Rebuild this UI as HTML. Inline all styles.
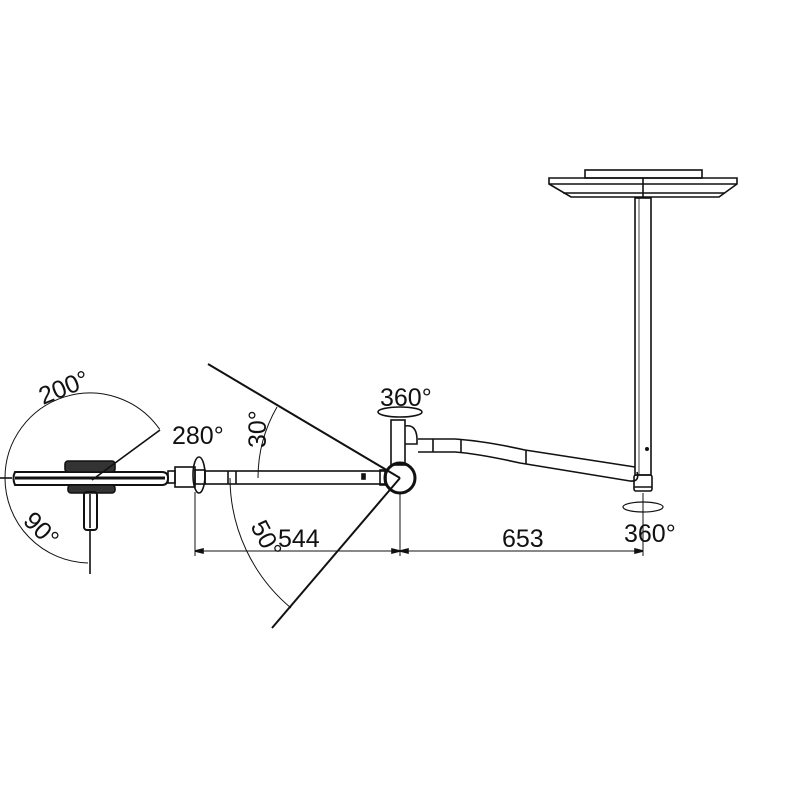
<!DOCTYPE html>
<html><head><style>body{margin:0;background:#fff}svg{display:block}text{font-family:"Liberation Sans",sans-serif;font-size:25px;fill:#111}</style></head>
<body>
<svg width="800" height="800" viewBox="0 0 800 800" xmlns="http://www.w3.org/2000/svg" fill="none" stroke="#111" stroke-width="1.6">
<!-- ceiling plate -->
<rect x="585" y="170" width="117" height="8"/>
<path d="M549 178 H737 V184 L719 197 H571 L549 184 Z"/>
<line x1="549" y1="184" x2="737" y2="184"/>
<line x1="563" y1="193" x2="725" y2="193"/>
<line x1="643" y1="178" x2="643" y2="197"/>
<!-- column -->
<rect x="635" y="198" width="16" height="277"/>
<line x1="639" y1="198" x2="639" y2="475" stroke-width="0.8"/>
<circle cx="647" cy="449" r="1.2" fill="#111"/>
<rect x="634" y="475" width="18" height="16" rx="2"/>
<line x1="634" y1="487" x2="652" y2="487"/>
<!-- arm to column -->
<path d="M418 439 H455 Q485 441 525 450 L635 467"/>
<path d="M418 452 H455 Q480 454 520 463 L630 481 Q640 482 637 472"/>
<line x1="433" y1="439" x2="433" y2="452"/><line x1="461" y1="440" x2="461" y2="453"/><line x1="526" y1="450" x2="526" y2="464"/>
<!-- vertical pipe + hook -->
<rect x="391" y="420" width="14" height="45"/>
<path d="M405 426 Q416 424 417 438 V444 H405"/>
<ellipse cx="400" cy="412" rx="22" ry="5"/>
<!-- joint -->
<circle cx="400" cy="478" r="15" stroke-width="3"/>
<!-- horizontal arm -->
<rect x="205" y="471" width="180" height="13"/>
<rect x="380" y="470" width="6" height="15"/>
<rect x="362" y="474" width="3" height="5" fill="#111"/>
<path d="M228 471 V484 M236 471 V484"/>
<rect x="175" y="467" width="20" height="20"/>
<ellipse cx="199" cy="475" rx="6" ry="18"/>
<rect x="195" y="470" width="10" height="14"/>
<rect x="168" y="471" width="7" height="12"/>
<!-- lamp head -->
<path d="M15 472 H162 Q168 472 168 478 Q168 485 162 485 H15 Q12 478 15 472 Z" stroke-width="2"/>
<line x1="15" y1="478" x2="165" y2="478" stroke-width="3"/>
<rect x="65" y="461" width="50" height="11" rx="3" fill="#333"/>
<rect x="68" y="485" width="47" height="8" rx="3" fill="#333"/>
<rect x="84" y="492" width="13" height="38" rx="3" stroke-width="2"/>
<line x1="90" y1="494" x2="90" y2="528"/>
<line x1="90" y1="530" x2="90" y2="574"/>
<line x1="92" y1="480" x2="160" y2="430"/>
<!-- arcs around lamp -->
<path d="M159.6 429.2 A85 85 0 0 0 5 478" stroke-width="1"/>
<path d="M5 478 A85 85 0 0 0 88 563" stroke-width="1"/>
<line x1="0" y1="478" x2="12" y2="478"/>
<!-- angle lines -->
<line x1="400" y1="478" x2="208" y2="364" stroke-width="2"/>
<line x1="400" y1="478" x2="272" y2="628" stroke-width="2"/>
<path d="M277 407 A142 142 0 0 0 258 478" stroke-width="1"/>
<path d="M230 478 A170 170 0 0 0 291 608" stroke-width="1"/>
<!-- dimensions -->
<line x1="195" y1="492" x2="195" y2="556" stroke-width="1"/>
<line x1="400" y1="492" x2="400" y2="556" stroke-width="1"/>
<line x1="643" y1="493" x2="643" y2="556" stroke-width="1"/>
<line x1="195" y1="551" x2="643" y2="551" stroke-width="1"/>
<path d="M195 551 l8 -2 v4 z M400 551 l-8 -2 v4 z M400 551 l8 -2 v4 z M643 551 l-8 -2 v4 z" fill="#111"/>
<ellipse cx="643" cy="507" rx="20" ry="5" stroke-width="1.2"/>
<g stroke="none">
<text x="278" y="547">544</text>
<text x="502" y="547">653</text>
<text x="380" y="406">360°</text>
<text x="624" y="542">360°</text>
<text x="172" y="444">280°</text>
<text transform="translate(43 405) rotate(-22)">200°</text>
<text transform="translate(266 448) rotate(-90)">30°</text>
<text transform="translate(250 526) rotate(62)">50°</text>
<text transform="translate(22 522) rotate(45)">90°</text>
</g>
</svg>
</body></html>
